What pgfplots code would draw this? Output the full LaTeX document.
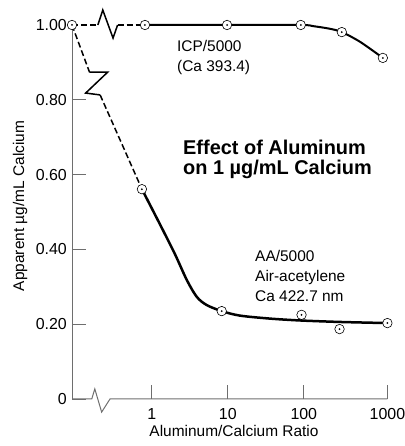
\documentclass[border=0pt]{standalone}
\usepackage{fontspec}
\setmainfont{Liberation Sans}
\usepackage{pgfplots}
\pgfplotsset{compat=1.18}

\definecolor{axisgray}{RGB}{110,110,110}

% open circle with a small dot in its centre
\pgfdeclareplotmark{dotcircle}{%
  \pgfpathcircle{\pgfpointorigin}{\pgfplotmarksize}%
  \pgfusepathqfillstroke
  \pgfscope
  \pgfsetfillcolor{black}%
  \pgfpathcircle{\pgfpointorigin}{1bp}%
  \pgfusepathqfill
  \endpgfscope
}

\tikzset{leadin/.style={black, line width=1.5bp, dash pattern=on 6bp off 3bp}}

\begin{document}
\begin{tikzpicture}[x=1bp,y=1bp]
\useasboundingbox (0,0) rectangle (404,446);
\begin{axis}[
  at={(72bp,47bp)}, anchor=south west,
  scale only axis,
  x=76bp, y=374bp,
  xmin=-1.05, xmax=3.1, ymin=0, ymax=1,
  clip=false,
  axis lines=left,
  axis line style={draw=axisgray, line width=1bp, -},
  x axis line style={draw=none},
  xtick={0,1,2,3.1}, xticklabels={1,10,100,1000},
  ytick={0,0.2,0.4,0.6,0.8}, yticklabels={0,0.20,0.40,0.60,0.80},
  extra y ticks={1}, extra y tick labels={1.00},
  extra y tick style={major tick length=0pt},
  tick align=inside,
  major tick length=14bp,
  tick style={draw=axisgray, line width=0.8bp},
  ticklabel style={font=\fontsize{16}{19}\selectfont, inner sep=0pt},
  xticklabel style={anchor=north, yshift=-9bp},
  yticklabel style={anchor=east, xshift=-5bp},
]
% bottom axis line with its break
\addplot[axisgray, line width=1bp] coordinates {(-1.05,0) (-0.79,0) (-0.75,0.027) (-0.66,-0.035) (-0.55,0) (3.1,0)};

% ICP/5000: dashed lead-in with break, then the fitted curve
\addplot[leadin] coordinates {(-1.05,1) (-0.71,1)};
\addplot[black, line width=1.5bp] coordinates {(-0.71,1) (-0.645,1.04) (-0.51,0.965) (-0.45,1)};
\addplot[leadin] coordinates {(-0.45,1) (-0.09,1)};
\addplot[black, line width=2bp, smooth, tension=0.5] coordinates {(-0.09,1.0) (0.99,1.0) (1.96,1.0) (2.12,0.997) (2.34,0.99) (2.5,0.981) (2.74,0.955) (3.04,0.912)};

% AA/5000: dashed lead-in with break, then the fitted curve
\addplot[leadin] coordinates {(-1.05,1) (-0.82,0.874)};
\addplot[black, line width=1.5bp] coordinates {(-0.82,0.874) (-0.58,0.874) (-0.87,0.818) (-0.68,0.813)};
\addplot[leadin] coordinates {(-0.68,0.813) (-0.13,0.561)};
\addplot[black, line width=2.5bp, smooth, tension=0.5] coordinates {(-0.13,0.561) (0.105,0.468) (0.303,0.388) (0.461,0.318) (0.592,0.273) (0.724,0.251) (0.921,0.235) (1.158,0.223) (1.553,0.215) (1.947,0.210) (2.474,0.206) (3.1,0.203)};

% measured points
\addplot[only marks, mark=dotcircle, mark size=4.75bp, mark options={fill=white, draw=black, line width=0.6bp}] coordinates {(-1.05,1.0) (-0.09,1.0) (0.99,1.0) (1.96,1.0) (2.5,0.981) (3.04,0.912)};
\addplot[only marks, mark=dotcircle, mark size=4.75bp, mark options={fill=white, draw=black, line width=0.6bp}] coordinates {(-0.13,0.561) (0.92,0.235) (1.97,0.225) (2.47,0.187) (3.1,0.203)};
\end{axis}

\node[anchor=base west, inner sep=0, font=\bfseries\fontsize{20}{24}\selectfont] at (183,291) {Effect of Aluminum};
\node[anchor=base west, inner sep=0, font=\bfseries\fontsize{20}{24}\selectfont] at (183,271) {on 1 µg/mL Calcium};

\node[anchor=base west, inner sep=0, font=\fontsize{15.5}{18}\selectfont] at (177,394) {ICP/5000};
\node[anchor=base west, inner sep=0, font=\fontsize{15.5}{18}\selectfont] at (177,374) {(Ca 393.4)};

\node[anchor=base west, inner sep=0, font=\fontsize{15.5}{18}\selectfont] at (255,184) {AA/5000};
\node[anchor=base west, inner sep=0, font=\fontsize{15.5}{18}\selectfont] at (255,164) {Air-acetylene};
\node[anchor=base west, inner sep=0, font=\fontsize{15.5}{18}\selectfont] at (255,144) {Ca 422.7 nm};

\node[anchor=base, inner sep=0, font=\fontsize{15.5}{18}\selectfont] at (234,9) {Aluminum/Calcium Ratio};
\node[anchor=base, inner sep=0, rotate=90, font=\fontsize{15.5}{18}\selectfont] at (24,240) {Apparent µg/mL Calcium};
\end{tikzpicture}
\end{document}
